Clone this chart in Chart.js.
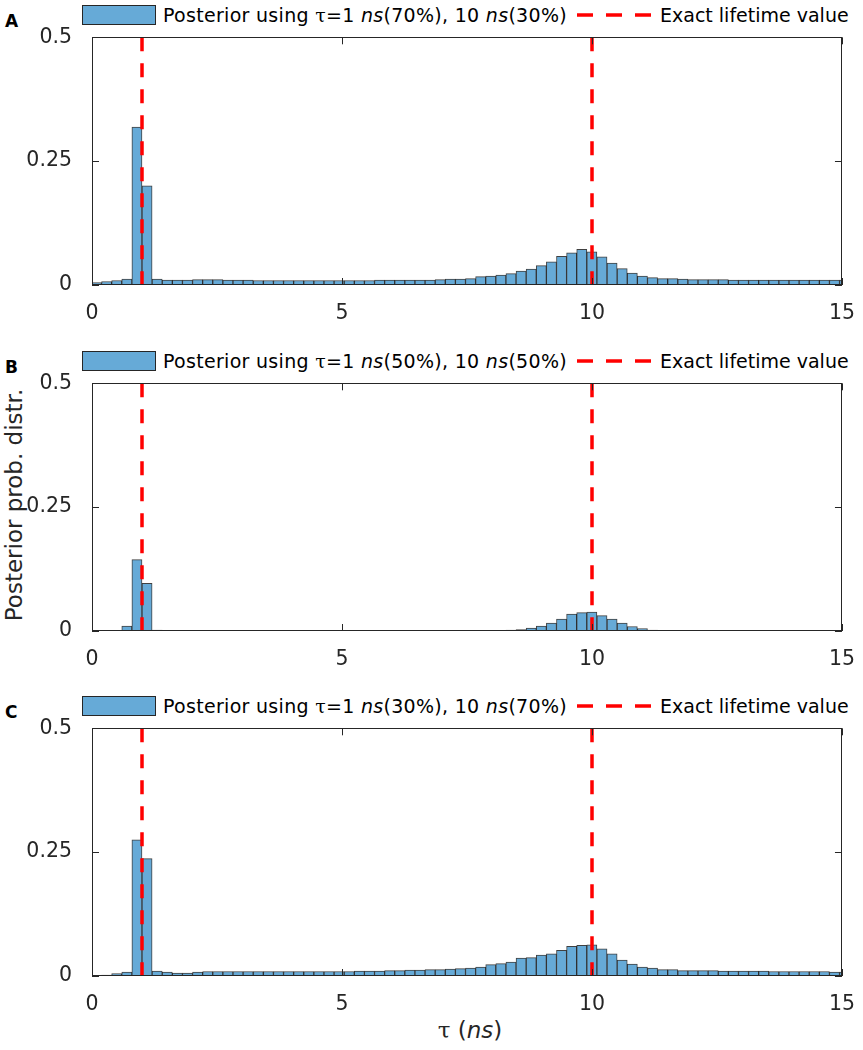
<!DOCTYPE html>
<html>
<head>
<meta charset="utf-8">
<script src="https://cdn.jsdelivr.net/npm/chart.js@4.4.1/dist/chart.umd.min.js"></script>
<style>
  body { margin: 0; background: #fff; }
  #fig { position: relative; width: 863px; height: 1050px; font-family: "DejaVu Sans", sans-serif; color: #000; }
  canvas { position: absolute; left: 0; }
  .letter { position: absolute; left: 5px; font-weight: bold; font-size: 17px; line-height: 20px; }
  .lg-box { position: absolute; left: 82px; width: 72px; height: 18px; background: #66aad7; border: 1px solid #262626; }
  .lg-text { position: absolute; font-size: 19px; line-height: 24px; white-space: nowrap; }
  .lg-main { letter-spacing: 0.3px; }
  .tau { font-family: "DejaVu Serif", serif; }
  .lg-dash { position: absolute; left: 577px; }
  #ytitle { position: absolute; left: 14px; top: 505px; transform: translate(-50%, -50%) rotate(-90deg); font-size: 23px; white-space: nowrap; color: #262626; }
  #xtitle { position: absolute; left: 470px; top: 1030px; transform: translate(-50%, -50%); font-size: 23px; white-space: nowrap; color: #262626; }
</style>
</head>
<body>
<div id="fig">
  <div id="ytitle">Posterior prob. distr.</div>
  <div id="xtitle"><span class="tau">τ</span> (<i>ns</i>)</div>
</div>
<script>
// histogram bins (ns)
const binStart = -0.011;
const binWidth = 0.2022;
const exactTau = [1, 10];
const panelNames = ['A', 'B', 'C'];
const share1ns = ['70%', '50%', '30%'];
const share10ns = ['30%', '50%', '70%'];
const xTicks = [0, 5, 10, 15];
const yTicks = [0, 0.25, 0.5];

const postA = [
  0.005, 0.007, 0.009, 0.012, 0.319, 0.200, 0.012, 0.010, 0.010, 0.010,
  0.011, 0.011, 0.011, 0.010, 0.010, 0.010, 0.009, 0.009, 0.009, 0.009,
  0.009, 0.009, 0.009, 0.009, 0.009, 0.009, 0.009, 0.009, 0.010, 0.010,
  0.010, 0.010, 0.010, 0.010, 0.011, 0.012, 0.012, 0.013, 0.017, 0.018,
  0.020, 0.023, 0.028, 0.032, 0.039, 0.047, 0.058, 0.065, 0.072, 0.067,
  0.057, 0.044, 0.033, 0.024, 0.018, 0.015, 0.013, 0.013, 0.012, 0.011,
  0.011, 0.011, 0.011, 0.010, 0.010, 0.010, 0.010, 0.010, 0.010, 0.010,
  0.010, 0.010, 0.010, 0.010, 0.010
];
const postB = [
  0, 0, 0.001, 0.010, 0.144, 0.096, 0.002, 0, 0, 0,
  0, 0, 0, 0, 0, 0, 0, 0, 0, 0,
  0, 0, 0, 0, 0, 0, 0, 0, 0, 0,
  0, 0, 0, 0, 0, 0.0005, 0.0005, 0.0005, 0.001, 0.001,
  0.001, 0.002, 0.003, 0.006, 0.010, 0.016, 0.024, 0.034, 0.037, 0.038,
  0.031, 0.024, 0.016, 0.009, 0.005, 0.002, 0.001, 0.001, 0.001, 0.001,
  0.001, 0.001, 0.001, 0.001, 0.001, 0.001, 0.001, 0.0005, 0.0005, 0.0005,
  0.0005, 0.0005, 0.0005, 0.0005, 0.0005
];
const postC = [
  0, 0.002, 0.005, 0.008, 0.275, 0.237, 0.010, 0.008, 0.006, 0.006,
  0.008, 0.009, 0.009, 0.009, 0.009, 0.009, 0.009, 0.009, 0.009, 0.009,
  0.009, 0.009, 0.009, 0.009, 0.009, 0.009, 0.010, 0.010, 0.010, 0.011,
  0.011, 0.012, 0.012, 0.013, 0.013, 0.014, 0.015, 0.016, 0.018, 0.023,
  0.025, 0.028, 0.036, 0.037, 0.042, 0.045, 0.052, 0.060, 0.062, 0.063,
  0.055, 0.045, 0.032, 0.024, 0.018, 0.016, 0.013, 0.013, 0.011, 0.011,
  0.011, 0.011, 0.010, 0.010, 0.010, 0.010, 0.010, 0.009, 0.009, 0.009,
  0.009, 0.009, 0.009, 0.008, 0.008
];
const posteriors = [postA, postB, postC];

const binCenters = postA.map((_, i) => binStart + (i + 0.5) * binWidth);

// plot-area tops in the figure
const areaTops = [37, 383, 728];
const areaHeight = 248;
const padTop = 16;
const axisH = 40;

Chart.defaults.font.family = '"DejaVu Sans", sans-serif';
Chart.defaults.color = '#262626';

const matlabAxes = {
  id: 'matlabAxes',
  afterDatasetsDraw(chart) {
    const {ctx, chartArea: a, scales: {x}} = chart;
    ctx.save();
    ctx.strokeStyle = '#ff0000';
    ctx.lineWidth = 3.5;
    ctx.setLineDash([14, 12]);
    exactTau.forEach(v => {
      const px = Math.round(x.getPixelForValue(v));
      ctx.beginPath();
      ctx.moveTo(px, a.top);
      ctx.lineTo(px, a.bottom);
      ctx.stroke();
    });
    ctx.restore();
  },
  afterDraw(chart) {
    const {ctx, chartArea: a, scales: {x, y}} = chart;
    const t = 7;
    ctx.save();
    ctx.strokeStyle = '#262626';
    ctx.lineWidth = 1;
    ctx.strokeRect(Math.round(a.left) + 0.5, Math.round(a.top) + 0.5,
      Math.round(a.right - a.left) - 1, Math.round(a.bottom - a.top) - 1);
    ctx.beginPath();
    xTicks.forEach(v => {
      const px = Math.round(x.getPixelForValue(v)) + 0.5;
      ctx.moveTo(px, a.bottom); ctx.lineTo(px, a.bottom - t);
      ctx.moveTo(px, a.top); ctx.lineTo(px, a.top + t);
    });
    yTicks.forEach(v => {
      const py = Math.round(y.getPixelForValue(v)) + 0.5;
      ctx.moveTo(a.left, py); ctx.lineTo(a.left + t, py);
      ctx.moveTo(a.right, py); ctx.lineTo(a.right - t, py);
    });
    ctx.stroke();
    ctx.restore();
  }
};

const fig = document.getElementById('fig');

panelNames.forEach((name, p) => {
  const top = areaTops[p];

  const letter = document.createElement('div');
  letter.className = 'letter';
  letter.style.top = (top - 26) + 'px';
  letter.textContent = name;
  fig.appendChild(letter);

  const box = document.createElement('div');
  box.className = 'lg-box';
  box.style.top = (top - 32) + 'px';
  fig.appendChild(box);

  const txt = document.createElement('div');
  txt.className = 'lg-text lg-main';
  txt.style.left = '163px';
  txt.style.top = (top - 34) + 'px';
  txt.innerHTML = 'Posterior using <span class="tau">τ</span>=1 <i>ns</i>(' + share1ns[p] +
    '), 10 <i>ns</i>(' + share10ns[p] + ')';
  fig.appendChild(txt);

  const dash = document.createElementNS('http://www.w3.org/2000/svg', 'svg');
  dash.setAttribute('class', 'lg-dash');
  dash.setAttribute('width', '76');
  dash.setAttribute('height', '8');
  dash.style.top = (top - 26) + 'px';
  dash.innerHTML = '<line x1="0" y1="4" x2="76" y2="4" stroke="#ff0000" stroke-width="3.5" stroke-dasharray="16 13"/>';
  fig.appendChild(dash);

  const txt2 = document.createElement('div');
  txt2.className = 'lg-text';
  txt2.style.left = '660px';
  txt2.style.top = (top - 34) + 'px';
  txt2.textContent = 'Exact lifetime value';
  fig.appendChild(txt2);

  const canvas = document.createElement('canvas');
  canvas.width = 863;
  canvas.height = padTop + areaHeight + axisH;
  canvas.style.top = (top - padTop) + 'px';
  fig.appendChild(canvas);

  const chart = new Chart(canvas, {
    type: 'bar',
    data: {
      datasets: [{
        data: posteriors[p].map((v, i) => ({x: binCenters[i], y: v})),
        backgroundColor: '#66aad7',
        borderColor: 'rgba(0,0,0,0.75)',
        borderWidth: 1,
        barPercentage: 1,
        categoryPercentage: 1
      }]
    },
    options: {
      responsive: false,
      maintainAspectRatio: false,
      animation: false,
      layout: {padding: {top: padTop, right: 16, left: 0, bottom: 0}},
      plugins: {legend: {display: false}, tooltip: {enabled: false}},
      scales: {
        x: {
          type: 'linear', min: 0, max: 15, offset: false,
          grid: {display: false}, border: {display: false},
          ticks: {stepSize: 5, padding: 8, maxRotation: 0, font: {size: 20.5}},
          afterFit(s) { s.height = axisH; }
        },
        y: {
          min: 0, max: 0.5,
          grid: {display: false}, border: {display: false},
          ticks: {stepSize: 0.25, padding: 12, font: {size: 20.5}, callback: v => String(v)},
          afterFit(s) { s.width = 92; }
        }
      }
    },
    plugins: [matlabAxes]
  });

  // line the plot area up with the reference panel
  const a = chart.chartArea;
  const extra = areaHeight - (a.bottom - a.top);
  if (Math.abs(extra) > 0.5) {
    chart.resize(863, Math.round(canvas.height + extra));
  }
  canvas.style.top = (top - chart.chartArea.top) + 'px';
});
</script>
</body>
</html>
